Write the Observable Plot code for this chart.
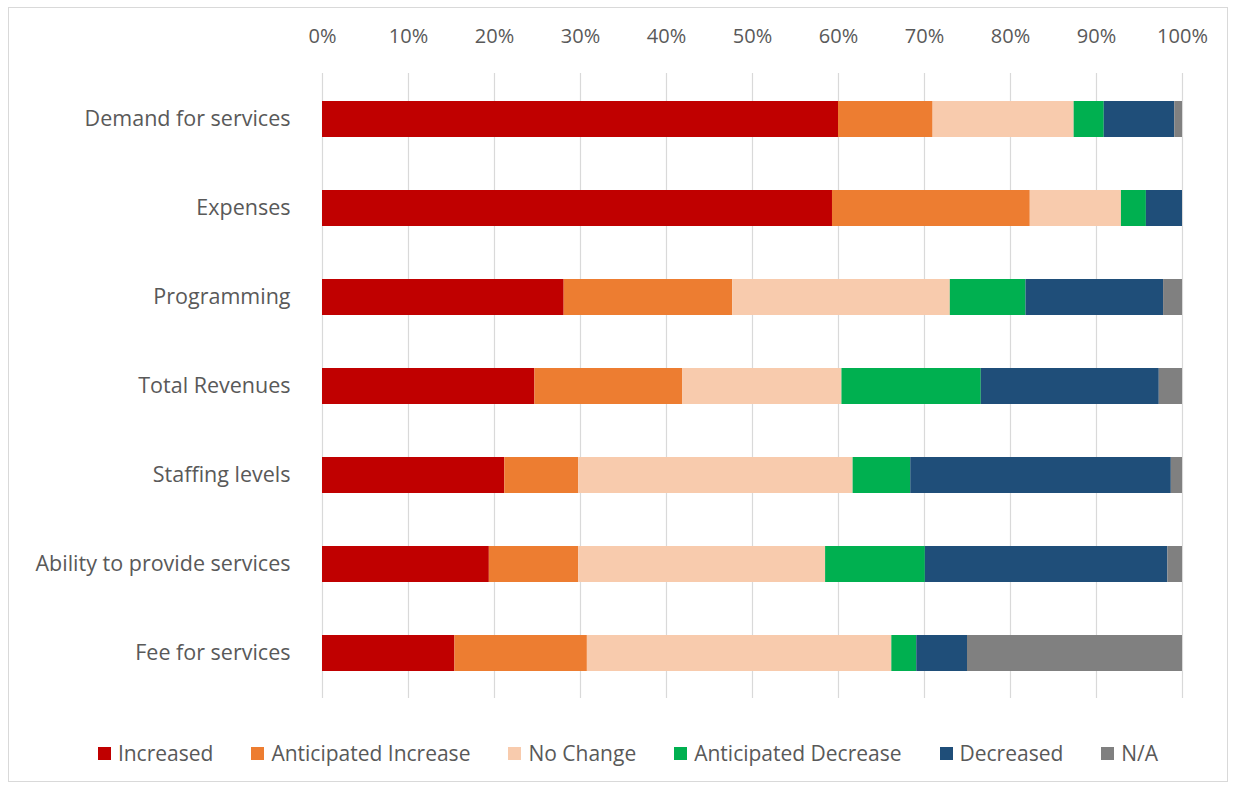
<!DOCTYPE html>
<html>
<head>
<meta charset="utf-8">
<script src="https://cdn.jsdelivr.net/npm/d3@7"></script>
<script src="https://cdn.jsdelivr.net/npm/@observablehq/plot@0.6"></script>
<style>
  html, body { margin: 0; padding: 0; background: #fff; }
  #frame {
    position: absolute; left: 8px; top: 7px; width: 1220px; height: 775px;
    border: 1px solid #d9d9d9; box-sizing: border-box; background: #fff;
    font-family: "Open Sans", sans-serif;
  }
  #legend {
    display: flex; justify-content: center; align-items: center;
    margin-top: 20px; height: 30px; gap: 38px;
    font-size: 21px; color: #595959; padding-left: 20px;
  }
  #legend .item { display: flex; align-items: center; gap: 7px; white-space: nowrap; }
  #legend .sw { width: 13px; height: 13px; display: inline-block; }
</style>
</head>
<body>
<div id="frame">
  <div id="chart"></div>
  <div id="legend"></div>
</div>
<script>
const categories = ["Demand for services", "Expenses", "Programming", "Total Revenues", "Staffing levels", "Ability to provide services", "Fee for services"];
const series = ["Increased", "Anticipated Increase", "No Change", "Anticipated Decrease", "Decreased", "N/A"];
const colors = ["#C00000", "#ED7D31", "#F8CBAD", "#00B050", "#1F4E79", "#808080"];
const increased            = [60.0, 59.3, 28.1, 24.7, 21.2, 19.4, 15.4];
const anticipatedIncrease  = [11.0, 23.0, 19.6, 17.2,  8.6, 10.4, 15.4];
const noChange             = [16.4, 10.6, 25.3, 18.5, 31.9, 28.7, 35.4];
const anticipatedDecrease  = [ 3.5,  2.9,  8.8, 16.2,  6.7, 11.6,  2.9];
const decreased            = [ 8.2,  4.2, 16.0, 20.7, 30.3, 28.2,  5.9];
const na                   = [ 0.9,  0.0,  2.2,  2.7,  1.3,  1.7, 25.0];
const xTicks = [0, 10, 20, 30, 40, 50, 60, 70, 80, 90, 100];

const valuesBySeries = [increased, anticipatedIncrease, noChange, anticipatedDecrease, decreased, na];
const data = [];
series.forEach((s, si) => {
  categories.forEach((c, ci) => {
    data.push({category: c, series: s, value: valuesBySeries[si][ci]});
  });
});

const chart = Plot.plot({
  width: 1218,
  height: 710,
  marginLeft: 313,
  marginRight: 45,
  marginTop: 65,
  marginBottom: 20,
  style: {fontFamily: "Open Sans, sans-serif", fontSize: "20px", color: "#595959", background: "#fff"},
  x: {domain: [0, 100]},
  y: {domain: categories, paddingInner: 0.6, paddingOuter: 0.3},
  color: {domain: series, range: colors},
  marks: [
    Plot.ruleX(xTicks, {stroke: "#d9d9d9", strokeWidth: 1.2}),
    Plot.barX(data, Plot.stackX({y: "category", x: "value", fill: "series", z: "series", order: series})),
    Plot.axisX({anchor: "top", ticks: xTicks, tickFormat: d => d + "%", tickSize: 0, tickPadding: 31, fontSize: 20, label: null}),
    Plot.axisY({tickSize: 0, tickPadding: 32, fontSize: 21.5, label: null})
  ]
});
document.getElementById("chart").appendChild(chart);

const legend = document.getElementById("legend");
series.forEach((s, i) => {
  const item = document.createElement("div");
  item.className = "item";
  const sw = document.createElement("span");
  sw.className = "sw";
  sw.style.background = colors[i];
  const t = document.createElement("span");
  t.textContent = s;
  item.appendChild(sw);
  item.appendChild(t);
  legend.appendChild(item);
});
</script>
</body>
</html>
